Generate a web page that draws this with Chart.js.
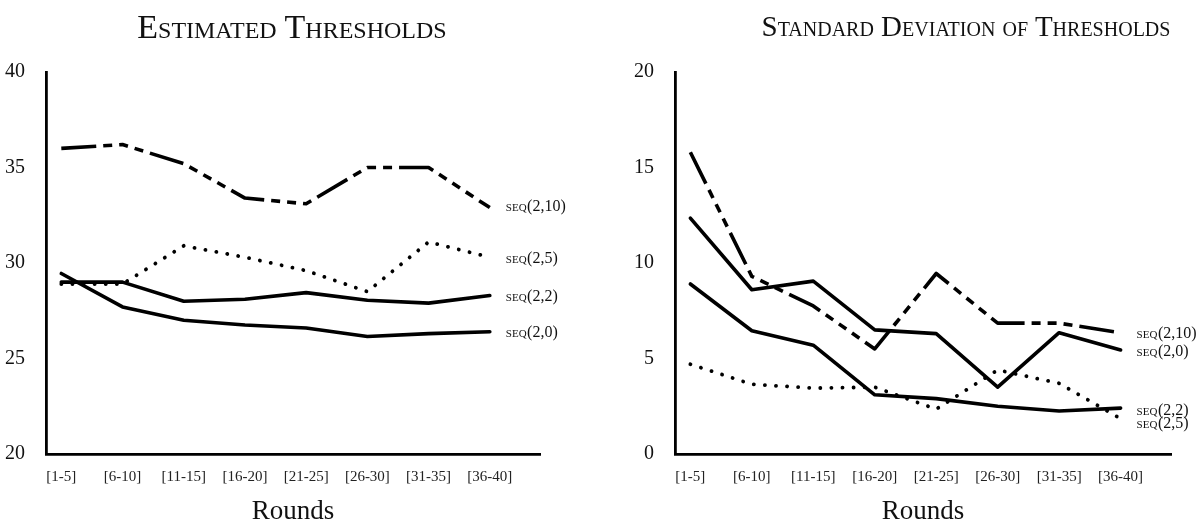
<!DOCTYPE html>
<html>
<head>
<meta charset="utf-8">
<script src="https://cdn.jsdelivr.net/npm/chart.js@4"></script>
<style>
body { margin: 0; background: #fff; width: 1198px; height: 525px; position: relative; overflow: hidden; font-family: "Liberation Serif", serif; }
.wrap { position: absolute; top: 0; height: 525px; }
.title { position: absolute; text-align: center; line-height: 1; font-variant: small-caps; color: #111; white-space: nowrap; }
</style>
</head>
<body>
<div class="wrap" style="left:0;width:600px"><canvas id="leftChart"></canvas></div>
<div class="wrap" style="left:600px;width:598px"><canvas id="rightChart"></canvas></div>
<div class="title" style="left:42px;width:500px;top:10px;font-size:34px">Estimated Thresholds</div>
<div class="title" style="left:756px;width:420px;top:12px;font-size:29px">Standard Deviation of Thresholds</div>
<script>
// x categories
var rounds = ['[1-5]', '[6-10]', '[11-15]', '[16-20]', '[21-25]', '[26-30]', '[31-35]', '[36-40]'];
var seriesNames = ['seq(2,10)', 'seq(2,5)', 'seq(2,2)', 'seq(2,0)'];

// Estimated thresholds
var estSeq210 = [36.0, 36.2, 35.2, 33.4, 33.1, 35.0, 35.0, 32.9];
var estSeq25 = [28.9, 28.9, 30.9, 30.3, 29.6, 28.5, 31.1, 30.3];
var estSeq22 = [29.0, 29.0, 28.0, 28.1, 28.45, 28.05, 27.9, 28.3];
var estSeq20 = [29.45, 27.7, 27.0, 26.75, 26.6, 26.15, 26.3, 26.4];

// Standard deviation of thresholds
var sdSeq210 = [15.8, 9.3, 7.75, 5.5, 9.45, 6.85, 6.85, 6.35];
var sdSeq25 = [4.7, 3.65, 3.45, 3.5, 2.35, 4.4, 3.7, 1.85];
var sdSeq22 = [8.9, 6.45, 5.7, 3.1, 2.9, 2.5, 2.25, 2.4];
var sdSeq20 = [12.35, 8.6, 9.05, 6.5, 6.3, 3.5, 6.35, 5.45];

var serifFont = '"Liberation Serif", serif';
var dashStyles = [[35, 7, 9, 7, 9, 7, 9, 7], [0.1, 11], [], []];
var capStyles = ['butt', 'round', 'round', 'round'];
var widths = [3.6, 3.8, 3.6, 3.6];

// draws the "seq(..)" names at the end of each line
var endLabels = {
    id: 'endLabels',
    afterDatasetsDraw(chart, args, opts) {
        var ctx = chart.ctx;
        ctx.save();
        ctx.fillStyle = '#111';
        ctx.textBaseline = 'alphabetic';
        chart.data.datasets.forEach((ds, i) => {
            var pts = chart.getDatasetMeta(i).data;
            var p = pts[pts.length - 1];
            var x = p.x + 16;
            var y = p.y + (opts.shift[i] || 0) + 5.5;
            var pre = ds.label.slice(0, 3).toUpperCase();
            ctx.font = '11px ' + serifFont;
            ctx.fillText(pre, x, y);
            var w = ctx.measureText(pre).width;
            ctx.font = '16px ' + serifFont;
            ctx.fillText(ds.label.slice(3), x + w + 0.5, y);
        });
        ctx.restore();
    }
};

function makeChart(id, series, yMin, yMax, axisWidth, padRight, shift){
    var datasets = series.map((vals, i) => ({
        label: seriesNames[i],
        data: vals.map((v, j) => ({x: j, y: v})),
        borderColor: '#000',
        backgroundColor: '#000',
        borderWidth: widths[i],
        borderDash: dashStyles[i],
        borderCapStyle: capStyles[i],
        borderJoinStyle: 'round',
        pointRadius: 0,
        tension: 0,
        fill: false
    }));
    return new Chart(document.getElementById(id).getContext('2d'), {
        type: 'line',
        data: {datasets: datasets},
        plugins: [endLabels],
        options: {
            responsive: true,
            maintainAspectRatio: false,
            animation: false,
            layout: {padding: {top: 72, right: padRight, bottom: 0, left: 0}},
            plugins: {
                legend: {display: false},
                tooltip: {enabled: false},
                endLabels: {shift: shift}
            },
            scales: {
                x: {
                    type: 'linear',
                    min: -0.25,
                    max: 7.82,
                    grid: {display: false},
                    border: {display: true, color: '#000', width: 2.8},
                    afterBuildTicks: s => { s.ticks = rounds.map((r, i) => ({value: i})); },
                    afterFit: s => { s.height = 71; },
                    ticks: {
                        autoSkip: false,
                        maxRotation: 0,
                        padding: 6,
                        color: '#222',
                        font: {family: serifFont, size: 15},
                        callback: v => rounds[v]
                    },
                    title: {
                        display: true,
                        text: 'Rounds',
                        color: '#111',
                        padding: {top: 0, bottom: 0},
                        font: {family: serifFont, size: 27, lineHeight: 1}
                    }
                },
                y: {
                    min: yMin,
                    max: yMax,
                    grid: {display: false},
                    border: {display: true, color: '#000', width: 2.8},
                    afterFit: s => { s.width = axisWidth; },
                    ticks: {
                        stepSize: 5,
                        padding: 13,
                        color: '#111',
                        font: {family: serifFont, size: 20}
                    }
                }
            }
        }
    });
}

window.onload = function(){
    makeChart('leftChart', [estSeq210, estSeq25, estSeq22, estSeq20], 20, 40, 46, 60, [-2, 0, 0, 0]);
    makeChart('rightChart', [sdSeq210, sdSeq25, sdSeq22, sdSeq20], 0, 20, 75, 27, [0, 4, 1, 1]);
};
</script>
</body>
</html>
